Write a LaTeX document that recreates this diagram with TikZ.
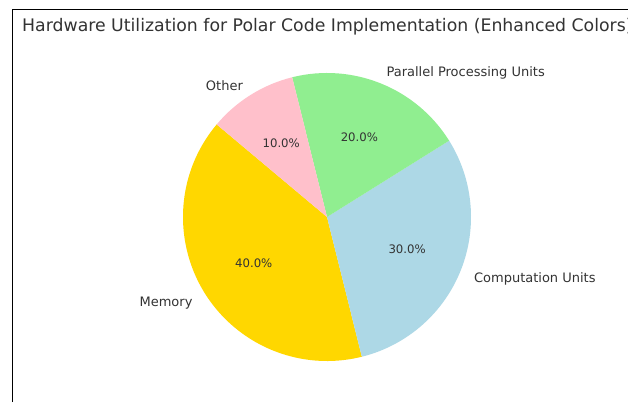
\documentclass[tikz,border=0pt]{standalone}
\usepackage{fontspec}
\setmainfont{DejaVu Sans}
\usetikzlibrary{calc}
\definecolor{txt}{HTML}{333333}
\definecolor{cmem}{HTML}{FFD700}
\definecolor{ccomp}{HTML}{ADD8E6}
\definecolor{cpar}{HTML}{90EE90}
\definecolor{coth}{HTML}{FFC0CB}
\tikzset{
  lbl/.style={inner sep=0pt, text=txt, yshift=-2.5pt, font=\fontsize{13}{15}\selectfont},
  pct/.style={inner sep=0pt, text=txt, font=\fontsize{11.7}{14}\selectfont},
  ttl/.style={inner sep=0pt, text=txt, font=\fontsize{17.3}{20}\selectfont}
}
\begin{document}
\begin{tikzpicture}[x=1pt,y=1pt]
\useasboundingbox (0,0) rectangle (628,-402);
\clip (0,0) rectangle (628,-402);
\fill[white] (0,0) rectangle (628,-402);
% frame
\draw[line width=1.6pt, black] (12.5,-402) -- (12.5,-9.5) -- (630,-9.5);
% title
\node[ttl, anchor=base west] (title) at (22,-31) {Hardware Utilization for Polar Code Implementation (Enhanced Colors)};
% pie
\coordinate (c) at (327,-217);
\fill[cmem] (c) -- ++(140:144) arc[start angle=140, end angle=284, radius=144] -- cycle;
\fill[ccomp] (c) -- ++(284:144) arc[start angle=284, end angle=392, radius=144] -- cycle;
\fill[cpar] (c) -- ++(32:144) arc[start angle=32, end angle=104, radius=144] -- cycle;
\fill[coth] (c) -- ++(104:144) arc[start angle=104, end angle=140, radius=144] -- cycle;
% labels
\node[lbl, anchor=east] (lmem) at ($(c)+(212:158.4)$) {Memory};
\node[lbl, anchor=west] (lcomp) at ($(c)+(338:158.4)$) {Computation Units};
\node[lbl, anchor=west] (lpar) at ($(c)+(68:158.4)$) {Parallel Processing Units};
\node[lbl, anchor=east] (loth) at ($(c)+(122:158.4)$) {Other};
% percentages
\node[pct] (pmem) at ($(c)+(212:86.4)$) {40.0\%};
\node[pct] (pcomp) at ($(c)+(338:86.4)$) {30.0\%};
\node[pct] (ppar) at ($(c)+(68:86.4)$) {20.0\%};
\node[pct] (poth) at ($(c)+(122:86.4)$) {10.0\%};
\end{tikzpicture}
\end{document}
